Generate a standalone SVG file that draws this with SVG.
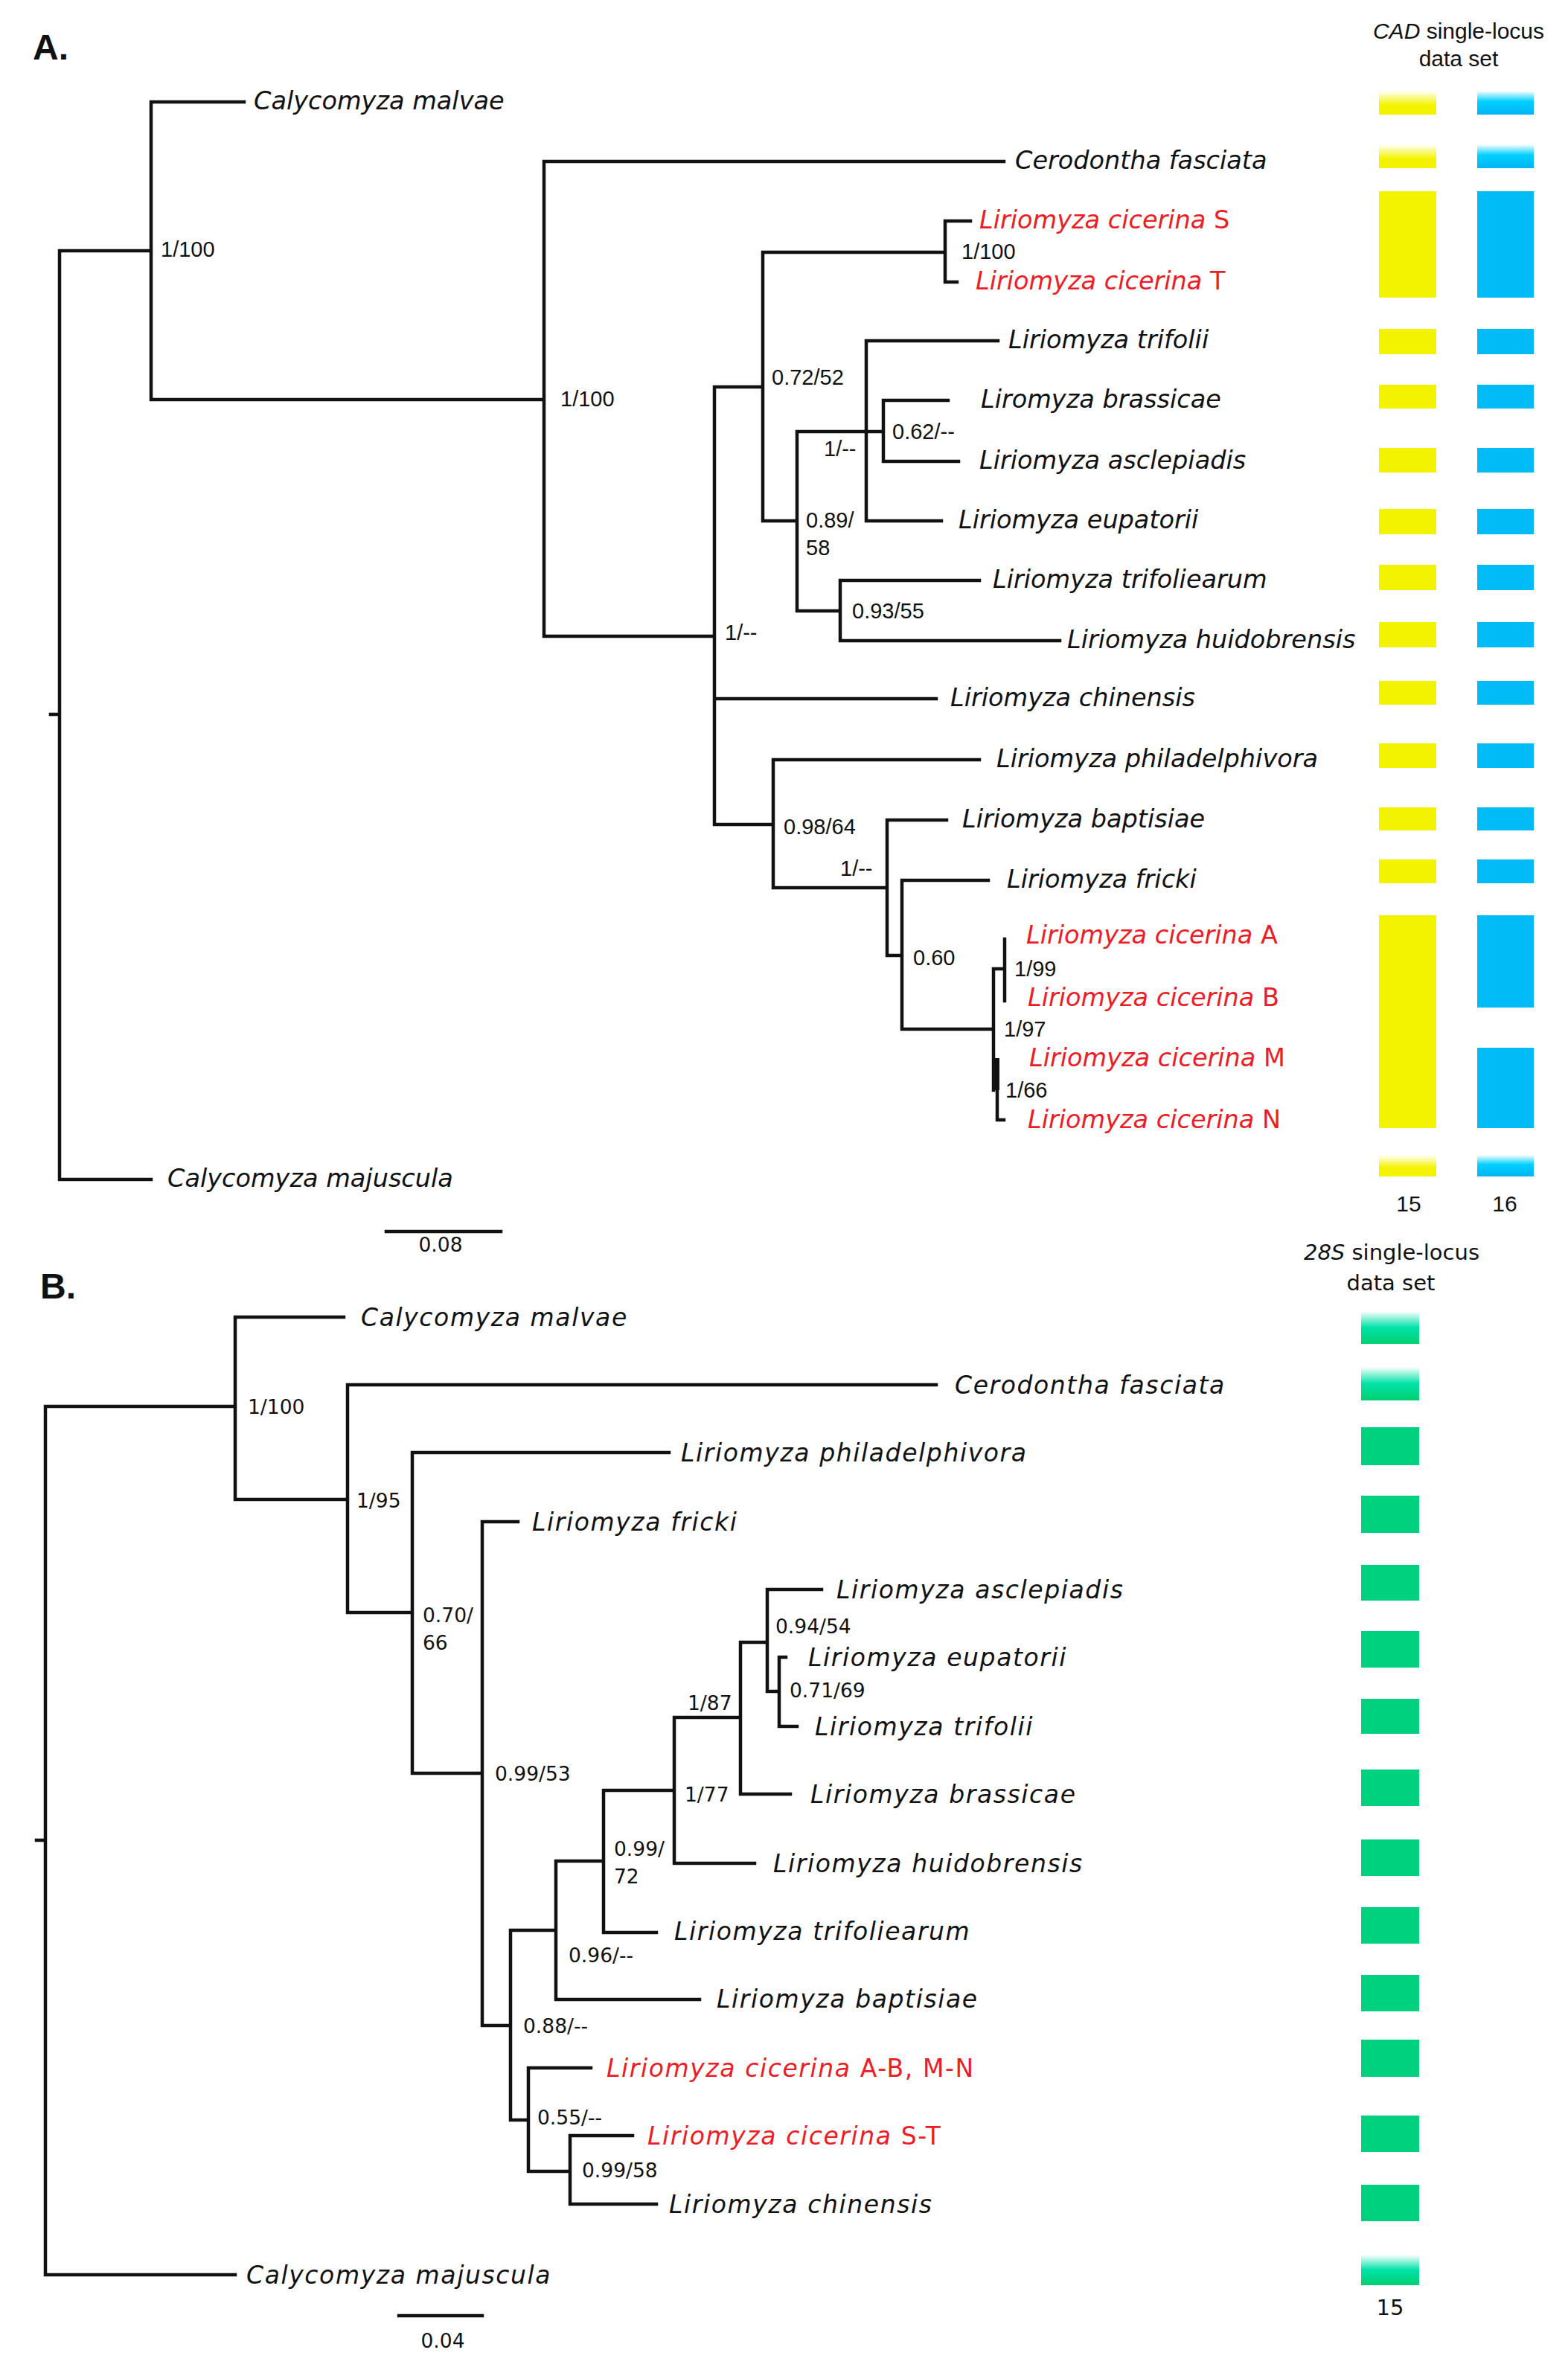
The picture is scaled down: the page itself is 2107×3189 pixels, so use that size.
<svg xmlns="http://www.w3.org/2000/svg" width="2107" height="3189" viewBox="0 0 2107 3189">
<style>
.br{fill:none;stroke:#111;stroke-width:4.5;stroke-linecap:square}
.sa{font-family:"DejaVu Sans",sans-serif;font-style:italic;font-size:33.5px;fill:#111}
.sb{font-family:"DejaVu Sans",sans-serif;font-style:italic;font-size:33px;letter-spacing:1.6px;fill:#111}
.la{font-family:"Liberation Sans",Arial,sans-serif;font-size:29px;fill:#111}
.lb{font-family:"DejaVu Sans",sans-serif;font-size:26.5px;fill:#111}
.hd{font-family:"Liberation Sans",Arial,sans-serif;font-size:30px;fill:#111;text-anchor:middle}
.hdb{font-family:"DejaVu Sans",sans-serif;font-size:29px;fill:#111;text-anchor:middle}
.pl{font-family:"Liberation Sans",Arial,sans-serif;font-size:48px;font-weight:bold;fill:#111}
.red{fill:#ee1c25}
.up{font-style:normal}
.it{font-style:italic}
.y{fill:#f3f300}
.b{fill:#00bbf6}
.g{fill:#00d17f}
</style>
<defs>
<linearGradient id="gy" x1="0" y1="0" x2="0" y2="1"><stop offset="0" stop-color="#fff"/><stop offset="0.6" stop-color="#f3f300"/><stop offset="1" stop-color="#f3f300"/></linearGradient>
<linearGradient id="gbl" x1="0" y1="0" x2="0" y2="1"><stop offset="0" stop-color="#fff"/><stop offset="0.45" stop-color="#00d0ff"/><stop offset="1" stop-color="#00b4f5"/></linearGradient>
<linearGradient id="ggr" x1="0" y1="0" x2="0" y2="1"><stop offset="0" stop-color="#fff"/><stop offset="0.5" stop-color="#00e2a8"/><stop offset="1" stop-color="#00d070"/></linearGradient>
</defs>
<rect width="2107" height="3189" fill="#fff"/>

<!-- Panel A -->
<text class="pl" x="44" y="80">A.</text>
<g id="connectors-A">
<path class="br" d="M80 337V1585M68 960H80M80 337H203M203 137V537M203 137H328M203 537H731M731 217V855M731 217H1349M731 855H960M960 520V1108M960 520H1025M960 939H1258M960 1108H1039M1025 339V700M1025 339H1270M1025 700H1071M1270 297V379M1270 297H1304M1270 379H1286M1071 580V821M1071 580H1187M1071 821H1129M1164 458V700M1164 458H1341M1164 700H1265M1187 538V620M1187 538H1274M1187 620H1288M1129 780V861M1129 780H1316M1129 861H1424M1039 1021V1193M1039 1021H1316M1039 1193H1192M1192 1102V1284M1192 1102H1272M1192 1284H1212M1212 1183V1383M1212 1183H1328M1212 1383H1335M1335 1302V1465M1335 1302H1350M1350 1262V1345M1340 1465V1505H1349M80 1585H203"/>
<rect x="1336" y="1422" width="7" height="43" fill="#111"/>
<path class="br" d="M519 1655H673"/>
</g>
<text class="lb" x="592" y="1682" text-anchor="middle">0.08</text>

<g id="supports-A">
<text class="la" x="216" y="345">1/100</text>
<text class="la" x="753" y="546">1/100</text>
<text class="la" x="974" y="860">1/--</text>
<text class="la" x="1037" y="517">0.72/52</text>
<text class="la" x="1292" y="348">1/100</text>
<text class="la" x="1083" y="709">0.89/</text>
<text class="la" x="1083" y="746">58</text>
<text class="la" x="1107" y="613">1/--</text>
<text class="la" x="1199" y="590">0.62/--</text>
<text class="la" x="1145" y="831">0.93/55</text>
<text class="la" x="1053" y="1121">0.98/64</text>
<text class="la" x="1129" y="1177">1/--</text>
<text class="la" x="1227" y="1297">0.60</text>
<text class="la" x="1363" y="1312">1/99</text>
<text class="la" x="1349" y="1393">1/97</text>
<text class="la" x="1351" y="1475">1/66</text>
</g>

<g id="tipA-malvae"><text class="sa" x="341" y="147">Calycomyza malvae</text></g>
<g id="tipA-cerodontha"><text class="sa" x="1364" y="227">Cerodontha fasciata</text></g>
<g id="tipA-cicS"><text class="sa red" x="1316" y="307">Liriomyza cicerina<tspan class="up"> S</tspan></text></g>
<g id="tipA-cicT"><text class="sa red" x="1311" y="389">Liriomyza cicerina<tspan class="up"> T</tspan></text></g>
<g id="tipA-trifolii"><text class="sa" x="1355" y="468">Liriomyza trifolii</text></g>
<g id="tipA-brassicae"><text class="sa" x="1318" y="548">Liromyza brassicae</text></g>
<g id="tipA-asclepiadis"><text class="sa" x="1316" y="630">Liriomyza asclepiadis</text></g>
<g id="tipA-eupatorii"><text class="sa" x="1288" y="710">Liriomyza eupatorii</text></g>
<g id="tipA-trifoliearum"><text class="sa" x="1334" y="790">Liriomyza trifoliearum</text></g>
<g id="tipA-huidobrensis"><text class="sa" x="1434" y="871">Liriomyza huidobrensis</text></g>
<g id="tipA-chinensis"><text class="sa" x="1277" y="949">Liriomyza chinensis</text></g>
<g id="tipA-philadelphivora"><text class="sa" x="1339" y="1031">Liriomyza philadelphivora</text></g>
<g id="tipA-baptisiae"><text class="sa" x="1293" y="1112">Liriomyza baptisiae</text></g>
<g id="tipA-fricki"><text class="sa" x="1353" y="1193">Liriomyza fricki</text></g>
<g id="tipA-cicA"><text class="sa red" x="1379" y="1268">Liriomyza cicerina<tspan class="up"> A</tspan></text></g>
<g id="tipA-cicB"><text class="sa red" x="1381" y="1352">Liriomyza cicerina<tspan class="up"> B</tspan></text></g>
<g id="tipA-cicM"><text class="sa red" x="1383" y="1433">Liriomyza cicerina<tspan class="up"> M</tspan></text></g>
<g id="tipA-cicN"><text class="sa red" x="1381" y="1516">Liriomyza cicerina<tspan class="up"> N</tspan></text></g>
<g id="tipA-majuscula"><text class="sa" x="225" y="1595">Calycomyza majuscula</text></g>

<g id="bars-A">
<text class="hd" x="1960" y="52"><tspan class="it">CAD</tspan> single-locus</text>
<text class="hd" x="1960" y="89">data set</text>
<rect x="1853" y="122" width="77" height="32" fill="url(#gy)"/>
<rect x="1985" y="122" width="76" height="32" fill="url(#gbl)"/>
<rect x="1853" y="194" width="77" height="32" fill="url(#gy)"/>
<rect x="1985" y="194" width="76" height="32" fill="url(#gbl)"/>
<rect class="y" x="1853" y="257" width="77" height="143"/>
<rect class="b" x="1985" y="257" width="76" height="143"/>
<rect class="y" x="1853" y="442" width="77" height="34"/>
<rect class="b" x="1985" y="442" width="76" height="34"/>
<rect class="y" x="1853" y="517" width="77" height="32"/>
<rect class="b" x="1985" y="517" width="76" height="32"/>
<rect class="y" x="1853" y="602" width="77" height="33"/>
<rect class="b" x="1985" y="602" width="76" height="33"/>
<rect class="y" x="1853" y="684" width="77" height="34"/>
<rect class="b" x="1985" y="684" width="76" height="34"/>
<rect class="y" x="1853" y="759" width="77" height="34"/>
<rect class="b" x="1985" y="759" width="76" height="34"/>
<rect class="y" x="1853" y="836" width="77" height="34"/>
<rect class="b" x="1985" y="836" width="76" height="34"/>
<rect class="y" x="1853" y="915" width="77" height="32"/>
<rect class="b" x="1985" y="915" width="76" height="32"/>
<rect class="y" x="1853" y="999" width="77" height="33"/>
<rect class="b" x="1985" y="999" width="76" height="33"/>
<rect class="y" x="1853" y="1085" width="77" height="31"/>
<rect class="b" x="1985" y="1085" width="76" height="31"/>
<rect class="y" x="1853" y="1155" width="77" height="32"/>
<rect class="b" x="1985" y="1155" width="76" height="32"/>
<rect class="y" x="1853" y="1230" width="77" height="286"/>
<rect class="b" x="1985" y="1230" width="76" height="124"/>
<rect class="b" x="1985" y="1408" width="76" height="108"/>
<rect x="1853" y="1552" width="77" height="29" fill="url(#gy)"/>
<rect x="1985" y="1552" width="76" height="29" fill="url(#gbl)"/>
<text class="hd" x="1893" y="1628">15</text>
<text class="hd" x="2022" y="1628">16</text>
</g>

<!-- Panel B -->
<text class="pl" x="54" y="1745">B.</text>
<g id="connectors-B">
<path class="br" d="M61 1890V3057M49 2473H61M61 1890H316M316 1770V2015M316 1770H462M316 2015H467M467 1861V2167M467 1861H1258M467 2167H554M554 1952V2383M554 1952H899M554 2383H648M648 2045V2722M648 2045H696M648 2722H686M686 2594V2849M686 2594H747M686 2849H710M747 2501V2687M747 2501H811M747 2687H940M811 2406V2597M811 2406H906M811 2597H882M906 2308V2504M906 2308H995M906 2504H1014M995 2207V2411M995 2207H1031M995 2411H1062M1031 2136V2273M1031 2136H1104M1031 2273H1047M1047 2227V2320M1047 2227H1056M1047 2320H1071M710 2779V2918M710 2779H794M710 2918H766M766 2870V2962M766 2870H850M766 2962H882M61 3057H316"/>
<path class="br" d="M536 3112H648"/>
</g>
<text class="lb" x="595" y="3155" text-anchor="middle">0.04</text>

<g id="supports-B">
<text class="lb" x="333" y="1900">1/100</text>
<text class="lb" x="479" y="2026">1/95</text>
<text class="lb" x="568" y="2180">0.70/</text>
<text class="lb" x="568" y="2217">66</text>
<text class="lb" x="665" y="2393">0.99/53</text>
<text class="lb" x="703" y="2732">0.88/--</text>
<text class="lb" x="764" y="2637">0.96/--</text>
<text class="lb" x="825" y="2494">0.99/</text>
<text class="lb" x="825" y="2531">72</text>
<text class="lb" x="920" y="2421">1/77</text>
<text class="lb" x="924" y="2298">1/87</text>
<text class="lb" x="1042" y="2195">0.94/54</text>
<text class="lb" x="1061" y="2281">0.71/69</text>
<text class="lb" x="722" y="2855">0.55/--</text>
<text class="lb" x="782" y="2926">0.99/58</text>
</g>

<g id="tipB-malvae"><text class="sb" x="485" y="1782">Calycomyza malvae</text></g>
<g id="tipB-cerodontha"><text class="sb" x="1283" y="1873">Cerodontha fasciata</text></g>
<g id="tipB-philadelphivora"><text class="sb" x="915" y="1964">Liriomyza philadelphivora</text></g>
<g id="tipB-fricki"><text class="sb" x="715" y="2057">Liriomyza fricki</text></g>
<g id="tipB-asclepiadis"><text class="sb" x="1124" y="2148">Liriomyza asclepiadis</text></g>
<g id="tipB-eupatorii"><text class="sb" x="1086" y="2239">Liriomyza eupatorii</text></g>
<g id="tipB-trifolii"><text class="sb" x="1095" y="2332">Liriomyza trifolii</text></g>
<g id="tipB-brassicae"><text class="sb" x="1089" y="2423">Liriomyza brassicae</text></g>
<g id="tipB-huidobrensis"><text class="sb" x="1039" y="2516">Liriomyza huidobrensis</text></g>
<g id="tipB-trifoliearum"><text class="sb" x="906" y="2607">Liriomyza trifoliearum</text></g>
<g id="tipB-baptisiae"><text class="sb" x="963" y="2698">Liriomyza baptisiae</text></g>
<g id="tipB-cicABMN"><text class="sb red" x="815" y="2791">Liriomyza cicerina<tspan class="up"> A-B, M-N</tspan></text></g>
<g id="tipB-cicST"><text class="sb red" x="870" y="2882">Liriomyza cicerina<tspan class="up"> S-T</tspan></text></g>
<g id="tipB-chinensis"><text class="sb" x="899" y="2974">Liriomyza chinensis</text></g>
<g id="tipB-majuscula"><text class="sb" x="331" y="3069">Calycomyza majuscula</text></g>

<g id="bars-B">
<text class="hdb" x="1870" y="1693"><tspan class="it">28S</tspan> single-locus</text>
<text class="hdb" x="1869" y="1734">data set</text>
<rect x="1829" y="1762" width="78" height="44" fill="url(#ggr)"/>
<rect x="1829" y="1837" width="78" height="45" fill="url(#ggr)"/>
<rect class="g" x="1829" y="1918" width="78" height="51"/>
<rect class="g" x="1829" y="2010" width="78" height="50"/>
<rect class="g" x="1829" y="2103" width="78" height="48"/>
<rect class="g" x="1829" y="2192" width="78" height="49"/>
<rect class="g" x="1829" y="2283" width="78" height="47"/>
<rect class="g" x="1829" y="2378" width="78" height="49"/>
<rect class="g" x="1829" y="2472" width="78" height="49"/>
<rect class="g" x="1829" y="2563" width="78" height="49"/>
<rect class="g" x="1829" y="2654" width="78" height="49"/>
<rect class="g" x="1829" y="2741" width="78" height="50"/>
<rect class="g" x="1829" y="2843" width="78" height="49"/>
<rect class="g" x="1829" y="2936" width="78" height="49"/>
<rect x="1829" y="3030" width="78" height="41" fill="url(#ggr)"/>
<text class="hdb" x="1868" y="3111">15</text>
</g>
</svg>
